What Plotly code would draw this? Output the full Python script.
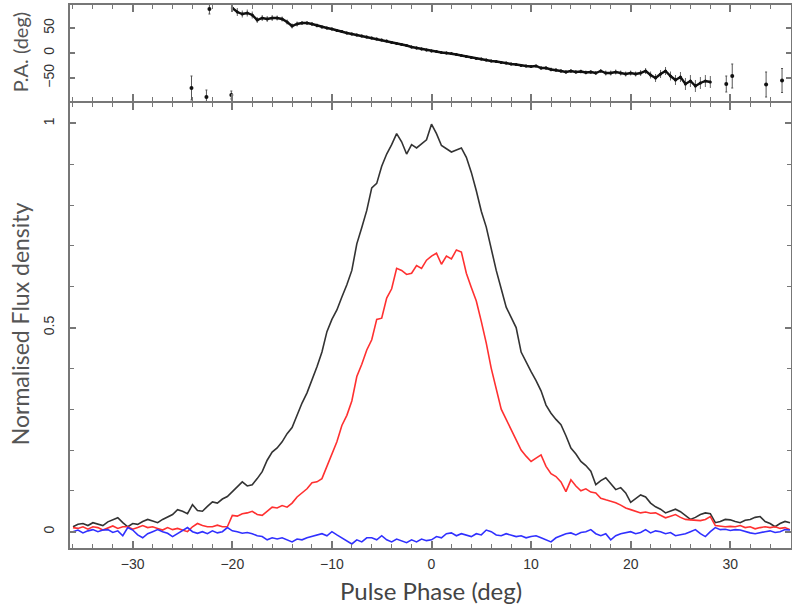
import numpy as np
import plotly.graph_objects as go

# ---------------- data ----------------
phase = np.arange(-36.0, 36.5, 0.5)  # pulse phase bins (deg)

total_I = [0.012, 0.018, 0.02, 0.015, 0.022, 0.018, 0.015, 0.024, 0.03, 0.034,
           0.022, 0.012, 0.02, 0.018, 0.025, 0.03, 0.026, 0.022, 0.03, 0.036,
           0.042, 0.054, 0.05, 0.044, 0.066, 0.052, 0.05, 0.062, 0.073, 0.07,
           0.08, 0.086, 0.098, 0.11, 0.122, 0.112, 0.115, 0.13, 0.147, 0.175,
           0.195, 0.205, 0.22, 0.24, 0.255, 0.285, 0.315, 0.34, 0.37, 0.404,
           0.44, 0.49, 0.52, 0.543, 0.575, 0.605, 0.64, 0.705, 0.745, 0.787,
           0.842, 0.853, 0.895, 0.925, 0.948, 0.975, 0.955, 0.925, 0.948, 0.94,
           0.95, 0.96, 0.998, 0.975, 0.946, 0.938, 0.93, 0.935, 0.94, 0.917,
           0.88, 0.835, 0.785, 0.746, 0.69, 0.64, 0.595, 0.55, 0.525, 0.5,
           0.44, 0.415, 0.392, 0.37, 0.345, 0.31, 0.29, 0.275, 0.262, 0.235,
           0.205, 0.19, 0.172, 0.162, 0.148, 0.115, 0.125, 0.132, 0.118, 0.103,
           0.108, 0.095, 0.072, 0.08, 0.09, 0.085, 0.07, 0.061, 0.055, 0.046,
           0.05, 0.055, 0.049, 0.04, 0.03, 0.035, 0.042, 0.046, 0.044, 0.022,
           0.025, 0.03, 0.029, 0.025, 0.022, 0.028, 0.03, 0.035, 0.037, 0.025,
           0.02, 0.012, 0.02, 0.025, 0.022]

linear_L = [0.01, 0.008, 0.012, 0.006, 0.012, 0.01, 0.004, 0.01, 0.014, 0.008,
            0.012, 0.012, 0.006, 0.01, 0.015, 0.01, 0.012, 0.008, 0.004, 0.01,
            0.005, 0.008, 0.003, 0.0, 0.012, 0.02, 0.015, 0.012, 0.012, 0.016,
            0.012, 0.012, 0.04, 0.038, 0.044, 0.046, 0.05, 0.042, 0.04, 0.05,
            0.06, 0.058, 0.064, 0.06, 0.07, 0.085, 0.095, 0.105, 0.12, 0.122,
            0.13, 0.16, 0.19, 0.22, 0.26, 0.285, 0.32, 0.38, 0.41, 0.445,
            0.47, 0.52, 0.523, 0.572, 0.595, 0.645, 0.64, 0.63, 0.633, 0.652,
            0.645, 0.665, 0.675, 0.682, 0.655, 0.675, 0.668, 0.69, 0.685, 0.633,
            0.598, 0.565, 0.515, 0.462, 0.4, 0.35, 0.3, 0.275, 0.25, 0.225,
            0.2, 0.185, 0.172, 0.18, 0.188, 0.16, 0.142, 0.135, 0.122, 0.098,
            0.127, 0.112, 0.1, 0.105, 0.097, 0.095, 0.082, 0.078, 0.074, 0.071,
            0.065, 0.058, 0.054, 0.05, 0.046, 0.048, 0.045, 0.046, 0.04, 0.034,
            0.038, 0.042, 0.035, 0.03, 0.029, 0.028, 0.027, 0.03, 0.037, 0.015,
            0.014, 0.012, 0.013, 0.012, 0.015, 0.01, 0.012, 0.007, 0.01, 0.012,
            0.01, 0.012, 0.008, 0.01, 0.005]

circular_V = [0.0, 0.004, -0.003, 0.002, 0.005, 0.0, 0.004, 0.005, -0.002, 0.002,
              -0.01, 0.01, 0.004, -0.008, -0.015, -0.005, 0.0, 0.005, 0.0, -0.004,
              -0.012, -0.005, 0.002, 0.01, 0.0, -0.004, 0.0, -0.005, 0.002, -0.003,
              0.0, 0.01, 0.002, 0.0, -0.004, -0.002, -0.005, -0.01, -0.012, -0.02,
              -0.015, -0.018, -0.015, -0.02, -0.025, -0.018, -0.02, -0.015, -0.012, -0.008,
              -0.005, -0.01, 0.0, -0.008, -0.015, -0.022, -0.03, -0.02, -0.025, -0.015,
              -0.015, -0.02, -0.01, -0.02, -0.025, -0.018, -0.022, -0.027, -0.02, -0.025,
              -0.018, -0.022, -0.02, -0.012, -0.015, -0.005, -0.003, -0.01, -0.005, -0.008,
              -0.012, -0.005, -0.008, 0.004, 0.0, -0.008, -0.01, -0.005, -0.008, -0.012,
              -0.01, -0.015, -0.012, -0.01, -0.015, -0.02, -0.025, -0.015, -0.01, -0.005,
              -0.003, -0.008, -0.002, 0.0, 0.005, -0.005, -0.01, -0.005, -0.02, -0.01,
              -0.005, -0.002, 0.0, -0.005, -0.002, 0.005, -0.003, 0.002, 0.0, -0.005,
              -0.002, -0.01, -0.008, -0.005, 0.0, 0.005, -0.005, -0.012, 0.0, 0.01,
              0.005, 0.006, 0.003, 0.005, 0.004, 0.0, -0.003, -0.005, -0.002, 0.0,
              0.002, -0.002, 0.0, 0.005, 0.004]

# Position angle sweep (main track)
pa_phase = [-20.0, -19.5, -19.0, -18.5, -18.0, -17.5, -17.0, -16.5, -16.0, -15.5,
            -15.0, -14.5, -14.0, -13.5, -13.0, -12.5, -12.0, -11.5, -11.0, -10.5,
            -10.0, -9.5, -9.0, -8.5, -8.0, -7.5, -7.0, -6.5, -6.0, -5.5,
            -5.0, -4.5, -4.0, -3.5, -3.0, -2.5, -2.0, -1.5, -1.0, -0.5,
            0.0, 0.5, 1.0, 1.5, 2.0, 2.5, 3.0, 3.5, 4.0, 4.5,
            5.0, 5.5, 6.0, 6.5, 7.0, 7.5, 8.0, 8.5, 9.0, 9.5,
            10.0, 10.5, 11.0, 11.5, 12.0, 12.5, 13.0, 13.5, 14.0, 14.5,
            15.0, 15.5, 16.0, 16.5, 17.0, 17.5, 18.0, 18.5, 19.0, 19.5,
            20.0, 20.5, 21.0, 21.5, 22.0, 22.5, 23.0, 23.5, 24.0, 24.5,
            25.0, 25.5, 26.0, 26.5, 27.0, 27.5, 28.0]
pa_value = [90, 82, 78, 80, 76, 66, 70, 68, 70, 70,
            68, 62, 54, 58, 60, 60, 58, 55, 52, 50,
            48, 45, 43, 40, 38, 36, 34, 32, 30, 28,
            26, 24, 21, 19, 17, 15, 12, 10, 8, 6,
            4, 3, 1, 0, -1, -3, -5, -7, -9, -11,
            -12, -14, -16, -17, -19, -20, -22, -23, -25, -26,
            -27, -26, -30, -30, -33, -34, -36, -38, -36, -38,
            -37, -39, -38, -40, -36, -40, -40, -38, -40, -42,
            -40, -42, -40, -36, -44, -50, -42, -36, -46, -54,
            -48, -62, -56, -66, -60, -56, -58]
pa_error = [8, 8, 7, 7, 7, 6, 6, 6, 6, 5,
            5, 5, 5, 5, 4, 4, 4, 4, 3, 3,
            3, 3, 3, 3, 3, 3, 3, 3, 3, 3,
            3, 3, 3, 3, 3, 3, 3, 3, 3, 3,
            3, 3, 3, 3, 3, 3, 3, 3, 3, 3,
            3, 3, 3, 3, 3, 3, 3, 3, 3, 3,
            3, 3, 4, 4, 4, 4, 4, 4, 4, 4,
            4, 4, 4, 4, 4, 5, 5, 5, 5, 5,
            5, 5, 6, 6, 7, 8, 8, 8, 9, 10,
            10, 12, 12, 12, 12, 12, 12]

# isolated low-S/N P.A. points
pa_iso_phase = [-24.1, -22.6, -22.3, -20.1, 29.6, 30.2, 33.6, 35.2]
pa_iso_value = [-70, -88, 88, -84, -62, -46, -63, -55]
pa_iso_error = [24, 14, 10, 8, 16, 24, 25, 24]

# ---------------- figure ----------------
AX = "#777777"
fig = go.Figure()

fig.add_trace(go.Scatter(x=phase, y=total_I, mode="lines",
                         line=dict(color="#333333", width=1.6),
                         xaxis="x", yaxis="y", showlegend=False))
fig.add_trace(go.Scatter(x=phase, y=linear_L, mode="lines",
                         line=dict(color="#ff3030", width=1.6),
                         xaxis="x", yaxis="y", showlegend=False))
fig.add_trace(go.Scatter(x=phase, y=circular_V, mode="lines",
                         line=dict(color="#3030ff", width=1.6),
                         xaxis="x", yaxis="y", showlegend=False))

fig.add_trace(go.Scatter(x=pa_phase, y=pa_value, mode="lines+markers",
                         line=dict(color="#111111", width=2.4),
                         marker=dict(size=3, color="#111111"),
                         error_y=dict(type="data", array=pa_error, color="#666666",
                                      thickness=1, width=0),
                         xaxis="x2", yaxis="y2", showlegend=False))
fig.add_trace(go.Scatter(x=pa_iso_phase, y=pa_iso_value, mode="markers",
                         marker=dict(size=4, color="#111111"),
                         error_y=dict(type="data", array=pa_iso_error, color="#555555",
                                      thickness=1, width=1),
                         xaxis="x2", yaxis="y2", showlegend=False))

tickfont = dict(family="Liberation Sans, Arial, sans-serif", size=14, color="#333333")
common = dict(showline=True, linecolor=AX, linewidth=2, mirror="ticks",
              ticks="inside", tickcolor=AX, tickwidth=1.5, showgrid=False,
              zeroline=False, automargin=False)

fig.update_layout(
    width=792, height=606,
    paper_bgcolor="white", plot_bgcolor="white",
    margin=dict(l=70, r=1, t=5, b=58, autoexpand=False),
    xaxis=dict(domain=[0, 1], anchor="y", range=[-36.3, 36.1],
               tick0=0, dtick=10, ticklen=7,
               minor=dict(ticks="inside", dtick=2, tick0=0, ticklen=4,
                          tickcolor=AX, tickwidth=1.2),
               tickfont=tickfont, ticklabelstandoff=2, **common),
    yaxis=dict(domain=[0, 0.8195], anchor="x", range=[-0.04, 1.05],
               tickvals=[0, 0.5, 1], ticktext=["0", "0.5", "1"], tickangle=-90,
               ticklen=6,
               minor=dict(ticks="inside", dtick=0.1, tick0=0, ticklen=4,
                          tickcolor=AX, tickwidth=1.2),
               tickfont=tickfont, ticklabelstandoff=8, **common),
    xaxis2=dict(domain=[0, 1], anchor="y2", matches="x", range=[-36.3, 36.1],
                tick0=0, dtick=10, ticklen=7, showticklabels=False,
                minor=dict(ticks="inside", dtick=2, tick0=0, ticklen=4,
                           tickcolor=AX, tickwidth=1.2),
                **common),
    yaxis2=dict(domain=[0.8232, 1.0], anchor="x2", range=[-96, 96],
                tickvals=[-50, 0, 50], tickangle=-90, ticklen=5,
                tickfont=tickfont, ticklabelstandoff=8, **common),
    annotations=[
        dict(text="Normalised Flux density", xref="paper", yref="paper",
             x=-0.0694, y=0.414, xanchor="center", yanchor="middle",
             textangle=-90, showarrow=False,
             font=dict(family="Lato, Open Sans, sans-serif", size=23, color="#555555")),
        dict(text="P.A. (deg)", xref="paper", yref="paper",
             x=-0.0694, y=0.913, xanchor="center", yanchor="middle",
             textangle=-90, showarrow=False,
             font=dict(family="Lato, Open Sans, sans-serif", size=20, color="#555555")),
        dict(text="Pulse Phase (deg)", xref="paper", yref="paper",
             x=0.5007, y=-0.0774, xanchor="center", yanchor="middle",
             showarrow=False,
             font=dict(family="Lato, Open Sans, sans-serif", size=24, color="#444444")),
    ],
)

fig.write_html("out.html",
               config={"displayModeBar": False},
               post_script="document.body.style.margin='0';"
                           "document.body.style.overflow='hidden';")
